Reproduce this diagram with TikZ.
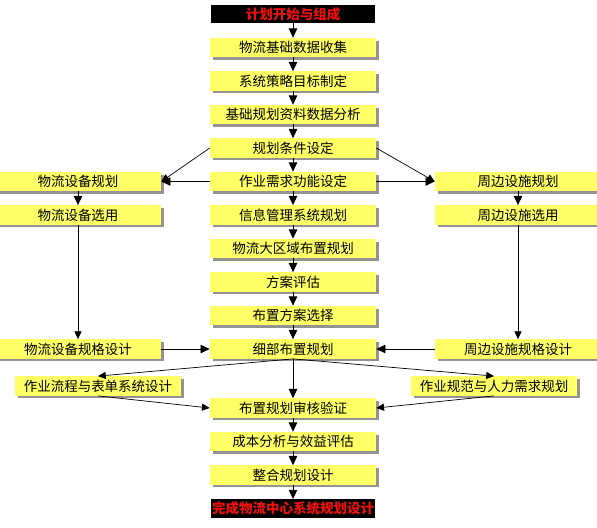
\documentclass[tikz,border=0pt]{standalone}
\usepackage{fontspec}
\newfontfamily\cjk{Noto Sans CJK SC}
\usetikzlibrary{arrows.meta}
\usetikzlibrary{shadows}
\definecolor{boxyellow}{HTML}{FFFF66}
\definecolor{titlered}{HTML}{F01010}

\begin{document}
\begin{tikzpicture}[x=0.025cm, y=-0.025cm,
  box/.style={fill=boxyellow, minimum width=4.15cm, minimum height=0.48cm, inner sep=0pt,
    font=\cjk\fontsize{9.6}{11}\selectfont,
    drop shadow={shadow xshift=0.07cm, shadow yshift=-0.07cm, fill=gray!85, opacity=1}},
  endbox/.style={fill=black, text=titlered, minimum width=4.1cm, minimum height=0.46cm, inner sep=0pt,
    font=\cjk\bfseries\fontsize{9.6}{11}\selectfont},
  arr/.style={-{Triangle[length=6.5pt,width=6pt]}, line width=0.6pt},
  thinarr/.style={-{Triangle[length=5.5pt,width=5pt]}, line width=0.5pt}]
\def\cx{293}
\def\lx{78}
\def\rx{518}

\useasboundingbox (0,0) rectangle (597,527);

\node[endbox] (start) at (\cx,14) {计划开始与组成};
\node[box] (collect) at (\cx,47.5) {物流基础数据收集};
\node[box] (goal) at (\cx,81) {系统策略目标制定};
\node[box] (data) at (\cx,114.5) {基础规划资料数据分析};
\node[box] (cond) at (\cx,148) {规划条件设定};
\node[box] (func) at (\cx,181.5) {作业需求功能设定};
\node[box] (info) at (\cx,215) {信息管理系统规划};
\node[box] (area) at (\cx,248.5) {物流大区域布置规划};
\node[box] (eval) at (\cx,282) {方案评估};
\node[box] (choose) at (\cx,315.5) {布置方案选择};
\node[box] (detail) at (\cx,349) {细部布置规划};
\node[box] (check) at (\cx,408) {布置规划审核验证};
\node[box] (cost) at (\cx,441.5) {成本分析与效益评估};
\node[box] (merge) at (\cx,475) {整合规划设计};
\node[endbox] (finish) at (\cx,508.5) {完成物流中心系统规划设计};

\node[box] (equip) at (\lx,181.5) {物流设备规划};
\node[box] (equipsel) at (\lx,215) {物流设备选用};
\node[box] (equipspec) at (\lx,349) {物流设备规格设计};
\node[box] (flow) at (98,386) {作业流程与表单系统设计};

\node[box] (facil) at (\rx,181.5) {周边设施规划};
\node[box] (facilsel) at (\rx,215) {周边设施选用};
\node[box] (facilspec) at (\rx,349) {周边设施规格设计};
\node[box] (staff) at (494,386) {作业规范与人力需求规划};

\foreach \a/\b in {start/collect, collect/goal, goal/data, data/cond, cond/func,
  func/info, info/area, area/eval, eval/choose, choose/detail, detail/check,
  check/cost, cost/merge, merge/finish}
  \draw[arr] (\a) -- (\b);

\draw[thinarr] (cond.west) -- (equip.east);
\draw[thinarr] (cond.east) -- (facil.west);
\draw[arr] (func) -- (equip);
\draw[arr] (func) -- (facil);
\draw[arr] (equip) -- (equipsel);
\draw[arr] (facil) -- (facilsel);
\draw[thinarr] (equipsel) -- (equipspec);
\draw[thinarr] (facilsel) -- (facilspec);
\draw[arr] (equipspec) -- (detail);
\draw[arr] (facilspec) -- (detail);
\draw[thinarr] (detail.south) -- (flow.north);
\draw[thinarr] (detail.south) -- (staff.north);
\draw[thinarr] (flow.south) -- (check.west);
\draw[thinarr] (staff.south) -- (check.east);
\end{tikzpicture}
\end{document}
